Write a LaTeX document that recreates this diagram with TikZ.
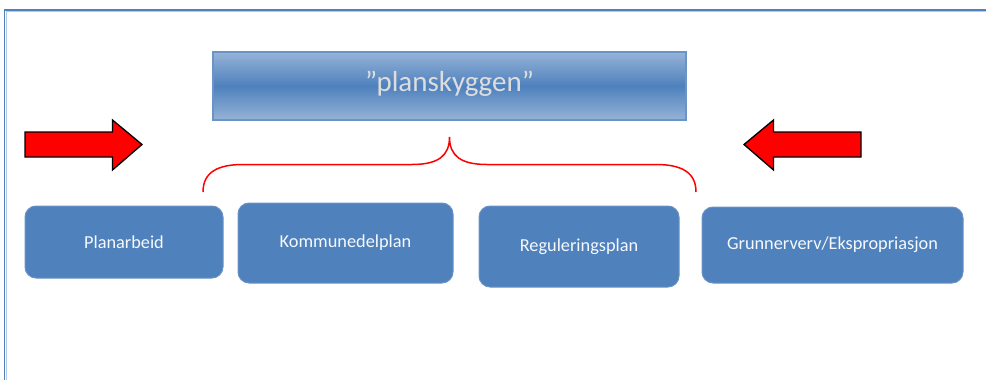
\documentclass[tikz,border=0pt]{standalone}
\usepackage{fontspec}
\setmainfont{Carlito}
\definecolor{accent}{HTML}{4F81BD}
\definecolor{accentlight}{HTML}{95B3D7}
\definecolor{accentedge}{HTML}{6A93C6}
\definecolor{textlight}{HTML}{DDDDDD}
\begin{document}
\begin{tikzpicture}[x=1pt,y=-1pt,
  stepbox/.style={draw=accentedge,line width=1pt,fill=accent,rounded corners=11pt,
    text=white!95!accent,font=\fontsize{18.3}{22}\selectfont,inner sep=0pt},
  pointer/.style={draw=black,line width=1.3pt,fill=red,line join=miter},
  bracket/.style={draw=red,line width=1.5pt}]
\useasboundingbox (0,0) rectangle (986,380);
% page frame
\draw[accent,line width=1.4pt] (4.5,400) -- (4.5,9.8) -- (1000,9.8);
\draw[accentlight!70,line width=0.9pt] (6,400) -- (6,11.2) -- (1000,11.2);
% title bar with gradient
\shade[top color=accentlight,bottom color=accentlight,middle color=accent]
  (213,52) rectangle (686,120);
\draw[accentedge,line width=1.3pt] (213,52) rectangle (686,120);
\node[text=textlight,font=\fontsize{29}{34}\selectfont] (title) at (449.5,84) {”planskyggen”};
% process boxes
\node[stepbox,minimum width=198pt,minimum height=72pt] (p1) at (124,242) {Planarbeid};
\node[stepbox,minimum width=215pt,minimum height=80pt] (p2) at (345.5,243) {Kommunedelplan};
\node[stepbox,minimum width=200pt,minimum height=81pt] (p3) at (579,246.5) {Reguleringsplan};
\node[stepbox,minimum width=261pt,minimum height=76pt] (p4) at (832.5,245) {Grunnerverv/Ekspropriasjon};
% block arrows
\draw[pointer] (25,132) -- (112.5,132) -- (112.5,120) -- (142,144.5) -- (112.5,170)
  -- (112.5,157) -- (25,157) -- cycle;
\draw[pointer] (861,132) -- (773.5,132) -- (773.5,120) -- (744,144.5) -- (773.5,170)
  -- (773.5,157) -- (861,157) -- cycle;
% curly bracket
\coordinate (bl) at (203,192);
\coordinate (br) at (696,192);
\coordinate (tip) at (449.5,137);
\draw[bracket] (bl) .. controls (203,172) and (218,164.5) .. (243,164.5)
  -- (412,164.5) .. controls (438,164.5) and (449.5,156) .. (tip)
  .. controls (449.5,156) and (461,164.5) .. (487,164.5)
  -- (656,164.5) .. controls (681,164.5) and (696,172) .. (br);
\end{tikzpicture}
\end{document}
